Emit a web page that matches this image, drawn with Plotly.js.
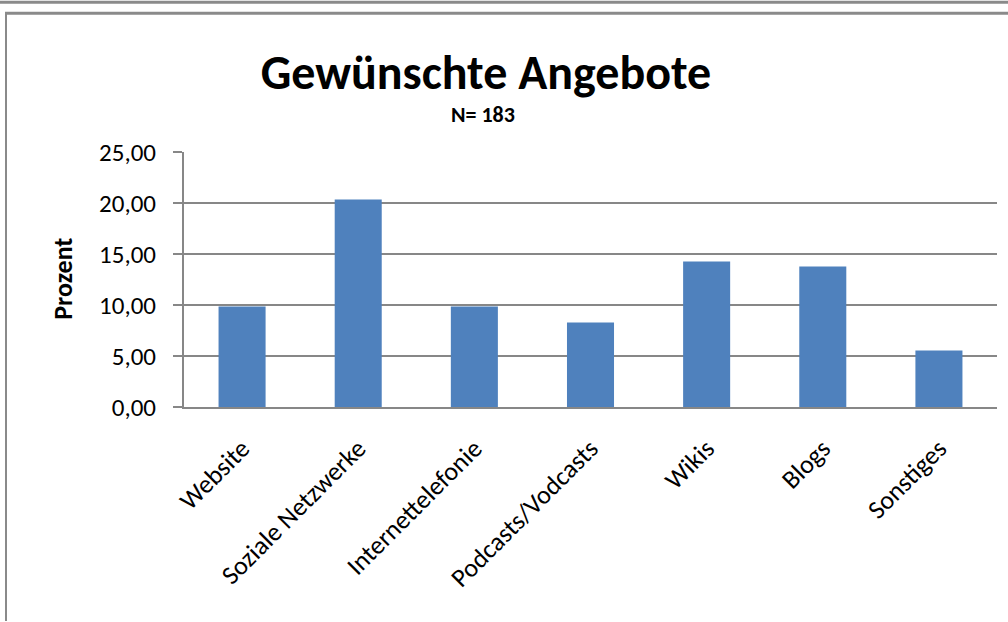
<!DOCTYPE html>
<html>
<head>
<meta charset="utf-8">
<script src="https://cdn.plot.ly/plotly-3.0.1.min.js"></script>
<style>html,body{margin:0;padding:0;background:#fff;}#chart{width:1008px;height:622px;}</style>
</head>
<body>
<div id="chart"></div>
<script>
const categories = ["Website", "Soziale Netzwerke", "Internettelefonie", "Podcasts/Vodcasts", "Wikis", "Blogs", "Sonstiges"];
const values = [9.85, 20.34, 9.85, 8.28, 14.26, 13.77, 5.54];
const yTicks = [0, 5, 10, 15, 20, 25];
const chartTitle = "Gewünschte Angebote";
const subTitle = "N= 183";
const yTitle = "Prozent";

const W = 1008, H = 622;
const M = {l: 184, r: 11, t: 152, b: 214.5};
const pw = W - M.l - M.r, ph = H - M.t - M.b;
const px = x => (x - M.l) / pw;
const py = y => (H - M.b - y) / ph;
const FONT = "Carlito, Lato, 'Liberation Sans', sans-serif";
const GRAY = "#878787";

const trace = {
  type: "bar",
  x: categories,
  y: values,
  marker: {color: "#4F81BD"},
  hoverinfo: "x+y"
};

const layout = {
  width: W, height: H,
  margin: M,
  paper_bgcolor: "#fff", plot_bgcolor: "#fff",
  font: {family: FONT, color: "#000", size: 25},
  separators: ",.",
  bargap: 0.595,
  showlegend: false,
  title: {
    text: "<b>" + chartTitle + "</b>",
    font: {family: FONT, size: 48, color: "#000"},
    xref: "container", yref: "container",
    x: 486 / W, xanchor: "center",
    y: 1 - 72 / H, yanchor: "middle"
  },
  annotations: [
    {
      text: "<b>" + subTitle + "</b>",
      xref: "paper", yref: "paper",
      x: px(483), y: py(114),
      xanchor: "center", yanchor: "middle",
      showarrow: false,
      font: {family: FONT, size: 22, color: "#000"}
    },
    {
      text: "<b>" + yTitle + "</b>",
      xref: "paper", yref: "paper",
      x: px(63), y: py(279),
      xanchor: "center", yanchor: "middle",
      textangle: -90,
      showarrow: false,
      font: {family: FONT, size: 26, color: "#000"}
    }
  ],
  xaxis: {
    type: "category",
    tickangle: -45,
    showline: true, linecolor: GRAY, linewidth: 2,
    ticks: "", showgrid: false,
    ticklabelstandoff: 14,
    tickfont: {family: FONT, size: 26, color: "#000"}
  },
  yaxis: {
    range: [0, 25],
    tickvals: yTicks,
    tickformat: ".2f",
    showline: true, linecolor: GRAY, linewidth: 2,
    ticks: "outside", ticklen: 9, tickcolor: GRAY, tickwidth: 2,
    ticklabelstandoff: 12,
    showgrid: true, gridcolor: GRAY, gridwidth: 2,
    zeroline: false,
    tickfont: {family: FONT, size: 25, color: "#000"}
  },
  shapes: [
    {type: "line", xref: "paper", yref: "paper", x0: px(0), x1: px(W), y0: py(2), y1: py(2), line: {color: "#8a8a8a", width: 3}},
    {type: "line", xref: "paper", yref: "paper", x0: px(5), x1: px(W), y0: py(13), y1: py(13), line: {color: "#8a8a8a", width: 3}},
    {type: "line", xref: "paper", yref: "paper", x0: px(6), x1: px(6), y0: py(12), y1: py(H), line: {color: "#8a8a8a", width: 2}}
  ]
};

Plotly.newPlot("chart", [trace], layout, {displayModeBar: false, staticPlot: true});
</script>
</body>
</html>
